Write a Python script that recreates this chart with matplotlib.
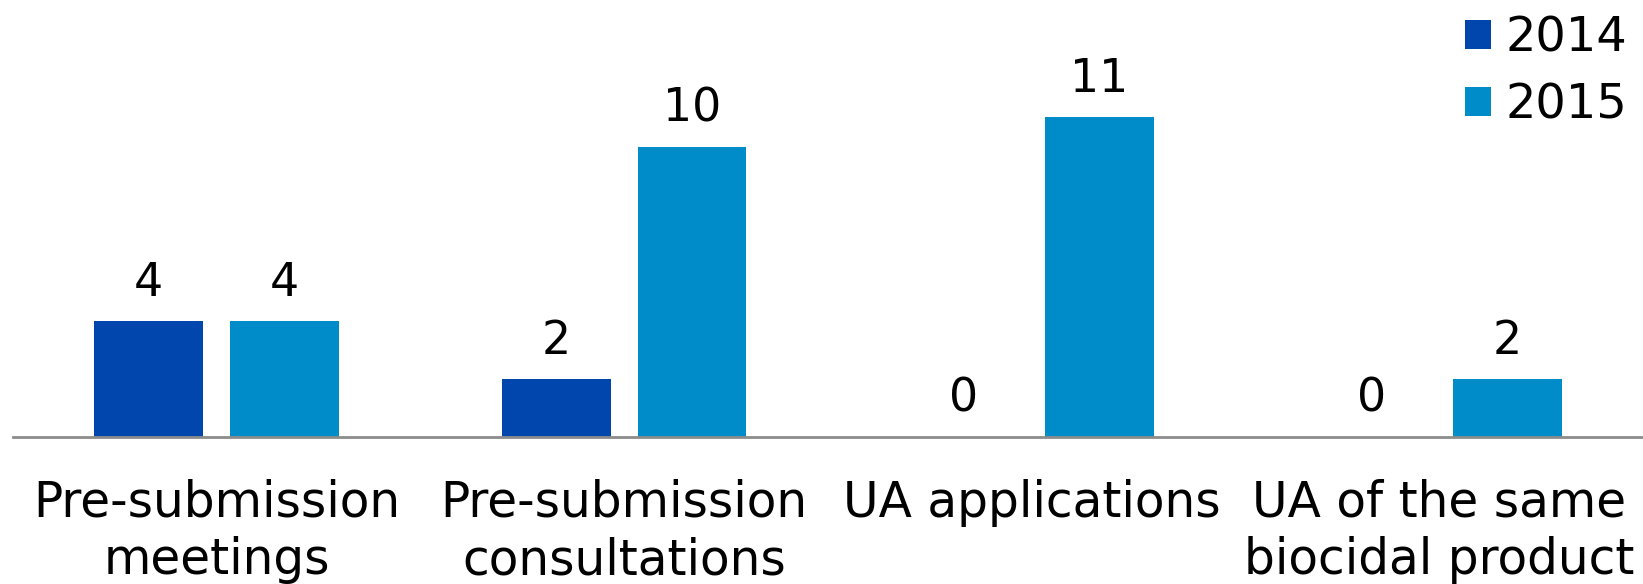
import numpy as np
import matplotlib.pyplot as plt

# Data
categories = ['Pre-submission\nmeetings', 'Pre-submission\nconsultations',
              'UA applications', 'UA of the same\nbiocidal product']
years = ['2014', '2015']
values_2014 = [4, 2, 0, 0]
values_2015 = [4, 10, 11, 2]

colors = ['#0046AD', '#008BC9']

fig = plt.figure(figsize=(16.43, 5.84), dpi=100)
ax = fig.add_axes([0.0077, 0.2513, 0.9923, 0.7487])

x = np.arange(len(categories))
width = 0.267
offset = 0.1667

bars1 = ax.bar(x - offset, values_2014, width, color=colors[0], label=years[0])
bars2 = ax.bar(x + offset, values_2015, width, color=colors[1], label=years[1])

for bars in (bars1, bars2):
    for b in bars:
        h = b.get_height()
        ax.annotate(f'{int(h)}', (b.get_x() + b.get_width() / 2, h),
                    xytext=(0, 11), textcoords='offset points',
                    ha='center', va='bottom', fontsize=33, color='black')

ax.set_xlim(-0.5, 3.5)
ax.set_ylim(0, 15.04)
ax.set_xticks(x)
ax.set_xticklabels(categories, fontsize=35, linespacing=1.25)
ax.tick_params(axis='x', length=0, pad=30)
ax.set_yticks([])
for side in ('top', 'right', 'left'):
    ax.spines[side].set_visible(False)
ax.spines['bottom'].set_color('#8c8c8c')
ax.spines['bottom'].set_linewidth(2)

ax.legend(loc='upper right', bbox_to_anchor=(1.008, 1.025), bbox_transform=fig.transFigure,
          frameon=False, fontsize=34.5, handlelength=0.55, handleheight=0.55,
          handletextpad=0.3, labelspacing=0.42, borderaxespad=0.2)

fig.savefig('out.png', dpi=100)
